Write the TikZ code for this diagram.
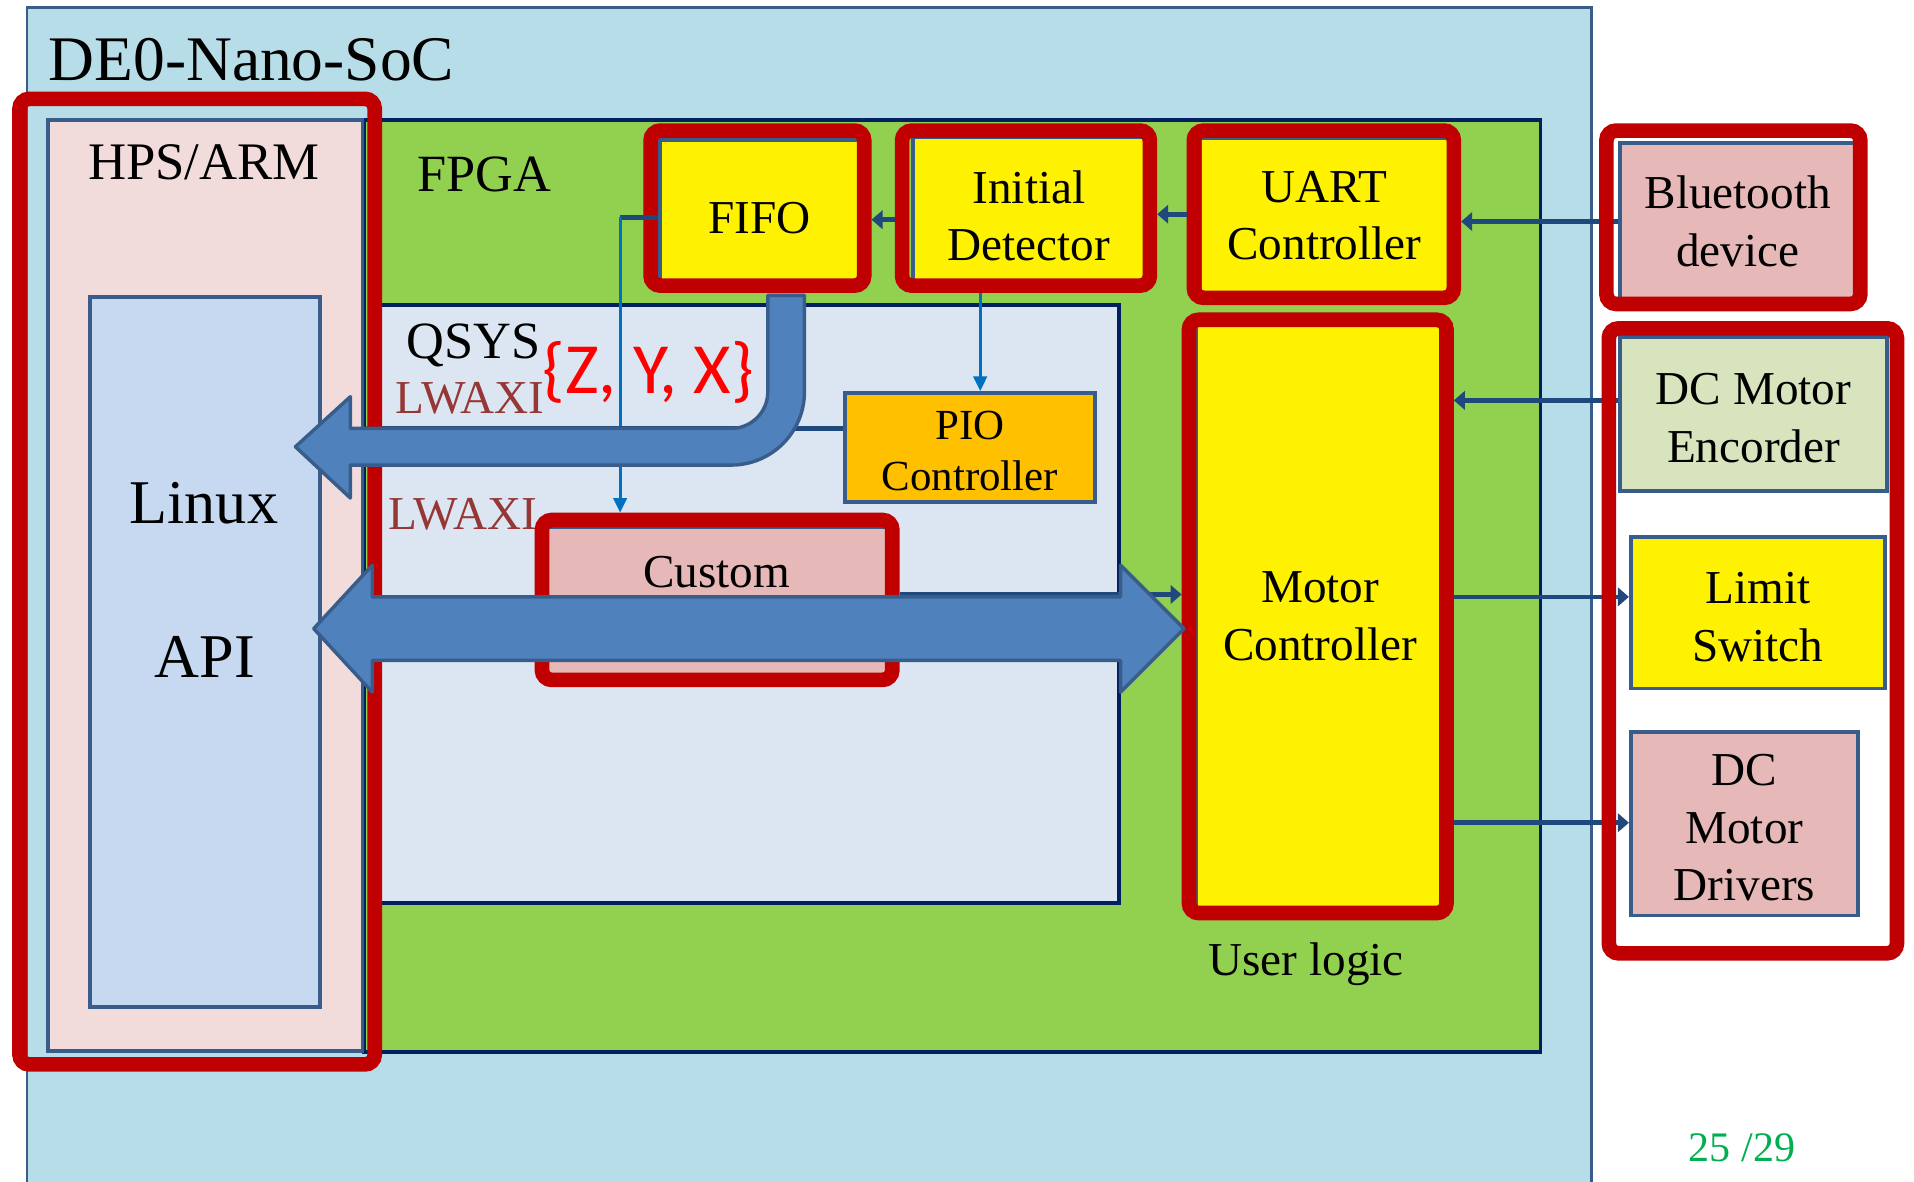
\documentclass[tikz,border=0pt]{standalone}
\usepackage{fontspec}
\setmainfont{Liberation Serif}
\newfontfamily\calibri{Carlito}
\usetikzlibrary{arrows.meta}
\definecolor{boardblue}{RGB}{183,221,232}
\definecolor{edgeblue}{RGB}{56,93,138}
\definecolor{fpgagreen}{RGB}{146,208,80}
\definecolor{navy}{RGB}{0,32,96}
\definecolor{qsysblue}{RGB}{220,230,242}
\definecolor{hpspink}{RGB}{242,220,219}
\definecolor{linuxblue}{RGB}{198,217,241}
\definecolor{blockpink}{RGB}{230,185,184}
\definecolor{pioorange}{RGB}{255,192,0}
\definecolor{encgreen}{RGB}{215,228,189}
\definecolor{framered}{RGB}{192,0,0}
\definecolor{busblue}{RGB}{79,129,189}
\definecolor{linkblue}{RGB}{31,73,125}
\definecolor{sigblue}{RGB}{0,112,192}
\definecolor{lwaxired}{RGB}{149,55,53}
\definecolor{pagegreen}{RGB}{0,176,80}
\newcommand{\boxstrut}[1]{\rule{0pt}{#1}}

\begin{document}
\begin{tikzpicture}[x=1cm,y=-1cm,
  blk/.style={draw=edgeblue,line width=0.9pt,inner sep=0,align=center,font=\fontsize{11}{13.4}\selectfont},
  hl/.style={draw=framered,line width=1.2mm,rounded corners=0.8mm,inner sep=0},
  link/.style={draw=linkblue,line width=1.1pt,-{Triangle[length=0.9mm,width=1.5mm]}},
  sig/.style={draw=sigblue,line width=0.7pt,-{Triangle[length=1.2mm,width=1.1mm]}},
  bus/.style={fill=busblue,draw=edgeblue,line width=0.8pt,line join=round}]
\fill[white] (0,0) rectangle (15.68,9.68);
\useasboundingbox (0,0) rectangle (15.68,9.68);
\fill[boardblue] (0.22,0.06) rectangle (13.04,9.68);
\draw[edgeblue,line width=0.6pt] (0.22,9.68) |- (13.04,0.06) -- (13.04,9.68);
\node[font=\fontsize{14.8}{17}\selectfont] (title) at (2.06,0.49) {DE0-Nano-SoC};

\node[draw=navy,line width=0.9pt,fill=fpgagreen,minimum width=9.64cm,minimum height=7.64cm] (fpga) at (7.80,4.80) {};
\node[draw=navy,line width=0.9pt,fill=qsysblue,minimum width=6.12cm,minimum height=4.90cm] (qsys) at (6.11,4.95) {};
\node[font=\fontsize{12.2}{14}\selectfont] (fpgalbl) at (3.97,1.43) {FPGA};
\node[font=\fontsize{12.2}{14}\selectfont] (qsyslbl) at (3.88,2.83) {QSYS};

\node[blk,fill=hpspink,minimum width=2.58cm,minimum height=7.63cm] (hps) at (1.68,4.795) {};
\node[blk,fill=linuxblue,minimum width=1.88cm,minimum height=5.82cm] (linux) at (1.68,5.34) {};
\node[font=\fontsize{12.3}{14}\selectfont] (hpslbl) at (1.67,1.33) {HPS/ARM};
\node[font=\fontsize{14.5}{17}\selectfont] (linuxlbl) at (1.67,4.12) {Linux};
\node[font=\fontsize{14.5}{17}\selectfont] (apilbl) at (1.68,5.38) {API};

\node[blk,fill=yellow,minimum width=1.63cm,minimum height=1.17cm] (fifo) at (6.225,1.735) {\boxstrut{10.1pt}FIFO};
\node[blk,fill=yellow,minimum width=1.90cm,minimum height=1.20cm] (det) at (8.43,1.72) {\boxstrut{10.3pt}Initial\\Detector};
\node[blk,fill=yellow,minimum width=2.04cm,minimum height=1.27cm] (uart) at (10.85,1.765) {UART\\Controller};
\node[blk,fill=yellow,minimum width=2.03cm,minimum height=4.80cm] (motor) at (10.815,5.05) {Motor\\Controller};
\node[blk,fill=pioorange,minimum width=2.05cm,minimum height=0.89cm,font=\fontsize{10}{11.9}\selectfont] (pio) at (7.945,3.665) {\boxstrut{8.3pt}PIO\\Controller};
\node[blk,fill=blockpink,minimum width=2.79cm,minimum height=1.21cm] (custom) at (5.875,4.925) {};
\node[font=\fontsize{11}{13}\selectfont] (customlbl) at (5.87,4.69) {Custom};
\node[blk,fill=blockpink,minimum width=1.93cm,minimum height=1.29cm] (bt) at (14.235,1.815) {Bluetooth\\device};
\node[blk,fill=encgreen,minimum width=2.19cm,minimum height=1.26cm] (enc) at (14.365,3.39) {\boxstrut{9.3pt}DC Motor\\Encorder};
\node[blk,fill=yellow,minimum width=2.08cm,minimum height=1.24cm] (limit) at (14.40,5.02) {\boxstrut{9.2pt}Limit\\Switch};
\node[blk,fill=blockpink,minimum width=1.86cm,minimum height=1.50cm] (drv) at (14.29,6.75) {\boxstrut{9.0pt}DC\\Motor\\Drivers};

\node[text=lwaxired,font=\fontsize{11}{13}\selectfont] (lwaxia) at (3.85,3.26) {LWAXI};
\node[text=lwaxired,font=\fontsize{11}{13}\selectfont] (lwaxib) at (3.79,4.21) {LWAXI};
\node[text=red,font=\calibri\fontsize{16.8}{20}\selectfont] (xyz) at (5.31,3.05) {\{Z, Y, X\}};
\node[font=\fontsize{11}{13}\selectfont] (userlbl) at (10.70,7.90) {User logic};
\node[text=pagegreen,font=\fontsize{9.8}{12}\selectfont] (pagenum) at (14.27,9.40) {25 /29};

\node[hl,minimum width=1.75cm,minimum height=1.27cm] (fifof) at (6.205,1.705) {};
\node[hl,minimum width=2.03cm,minimum height=1.27cm] (detf) at (8.405,1.705) {};
\node[hl,minimum width=2.13cm,minimum height=1.37cm] (uartf) at (10.845,1.755) {};
\node[hl,minimum width=2.11cm,minimum height=4.86cm] (motorf) at (10.795,5.05) {};
\node[hl,minimum width=2.87cm,minimum height=1.31cm] (customf) at (5.875,4.915) {};

\coordinate (tap) at (5.08,1.78);
\draw[link] (bt.west) -- (bt.west -| uartf.east);
\draw[link] (uartf.west) -- (uartf.west -| detf.east);
\draw[link] (detf.west |- 0,1.80) -- (fifof.east |- 0,1.80);
\draw[link,-] (fifo.west |- tap) -- (tap);
\draw[sig] (tap) -- (tap |- customf.north);
\draw[sig] (detf.south -| 8.03,0) -- (pio.north -| 8.03,0);
\draw[link] (pio.west |- 0,3.51) -- (hps.east |- 0,3.51);
\draw[link] (customf.east |- 0,4.87) -- (motorf.west |- 0,4.87);
\draw[link] (enc.west |- 0,3.28) -- (motorf.east |- 0,3.28);
\draw[link] (motorf.east |- 0,4.89) -- (limit.west |- 0,4.89);
\draw[link] (motorf.east |- 0,6.74) -- (drv.west |- 0,6.74);

\node[hl,minimum width=2.91cm,minimum height=7.91cm] (hpsf) at (1.615,4.765) {};
\node[hl,minimum width=2.08cm,minimum height=1.42cm] (btf) at (14.20,1.78) {};
\node[hl,minimum width=2.36cm,minimum height=5.12cm] (extf) at (14.36,5.25) {};

\draw[bus] (6.29,2.42) -- (6.29,3.21) arc[start angle=0,end angle=90,radius=0.30]
  -- (2.87,3.51) -- (2.87,3.25) -- (2.42,3.66) -- (2.87,4.08) -- (2.87,3.81) -- (5.99,3.81)
  arc[start angle=90,end angle=0,radius=0.60] -- (6.59,2.42) -- cycle;
\draw[bus] (2.57,5.15) -- (3.05,4.63) -- (3.05,4.89) -- (9.18,4.89) -- (9.18,4.63) -- (9.70,5.15)
  -- (9.18,5.67) -- (9.18,5.41) -- (3.05,5.41) -- (3.05,5.67) -- cycle;
\end{tikzpicture}
\end{document}
